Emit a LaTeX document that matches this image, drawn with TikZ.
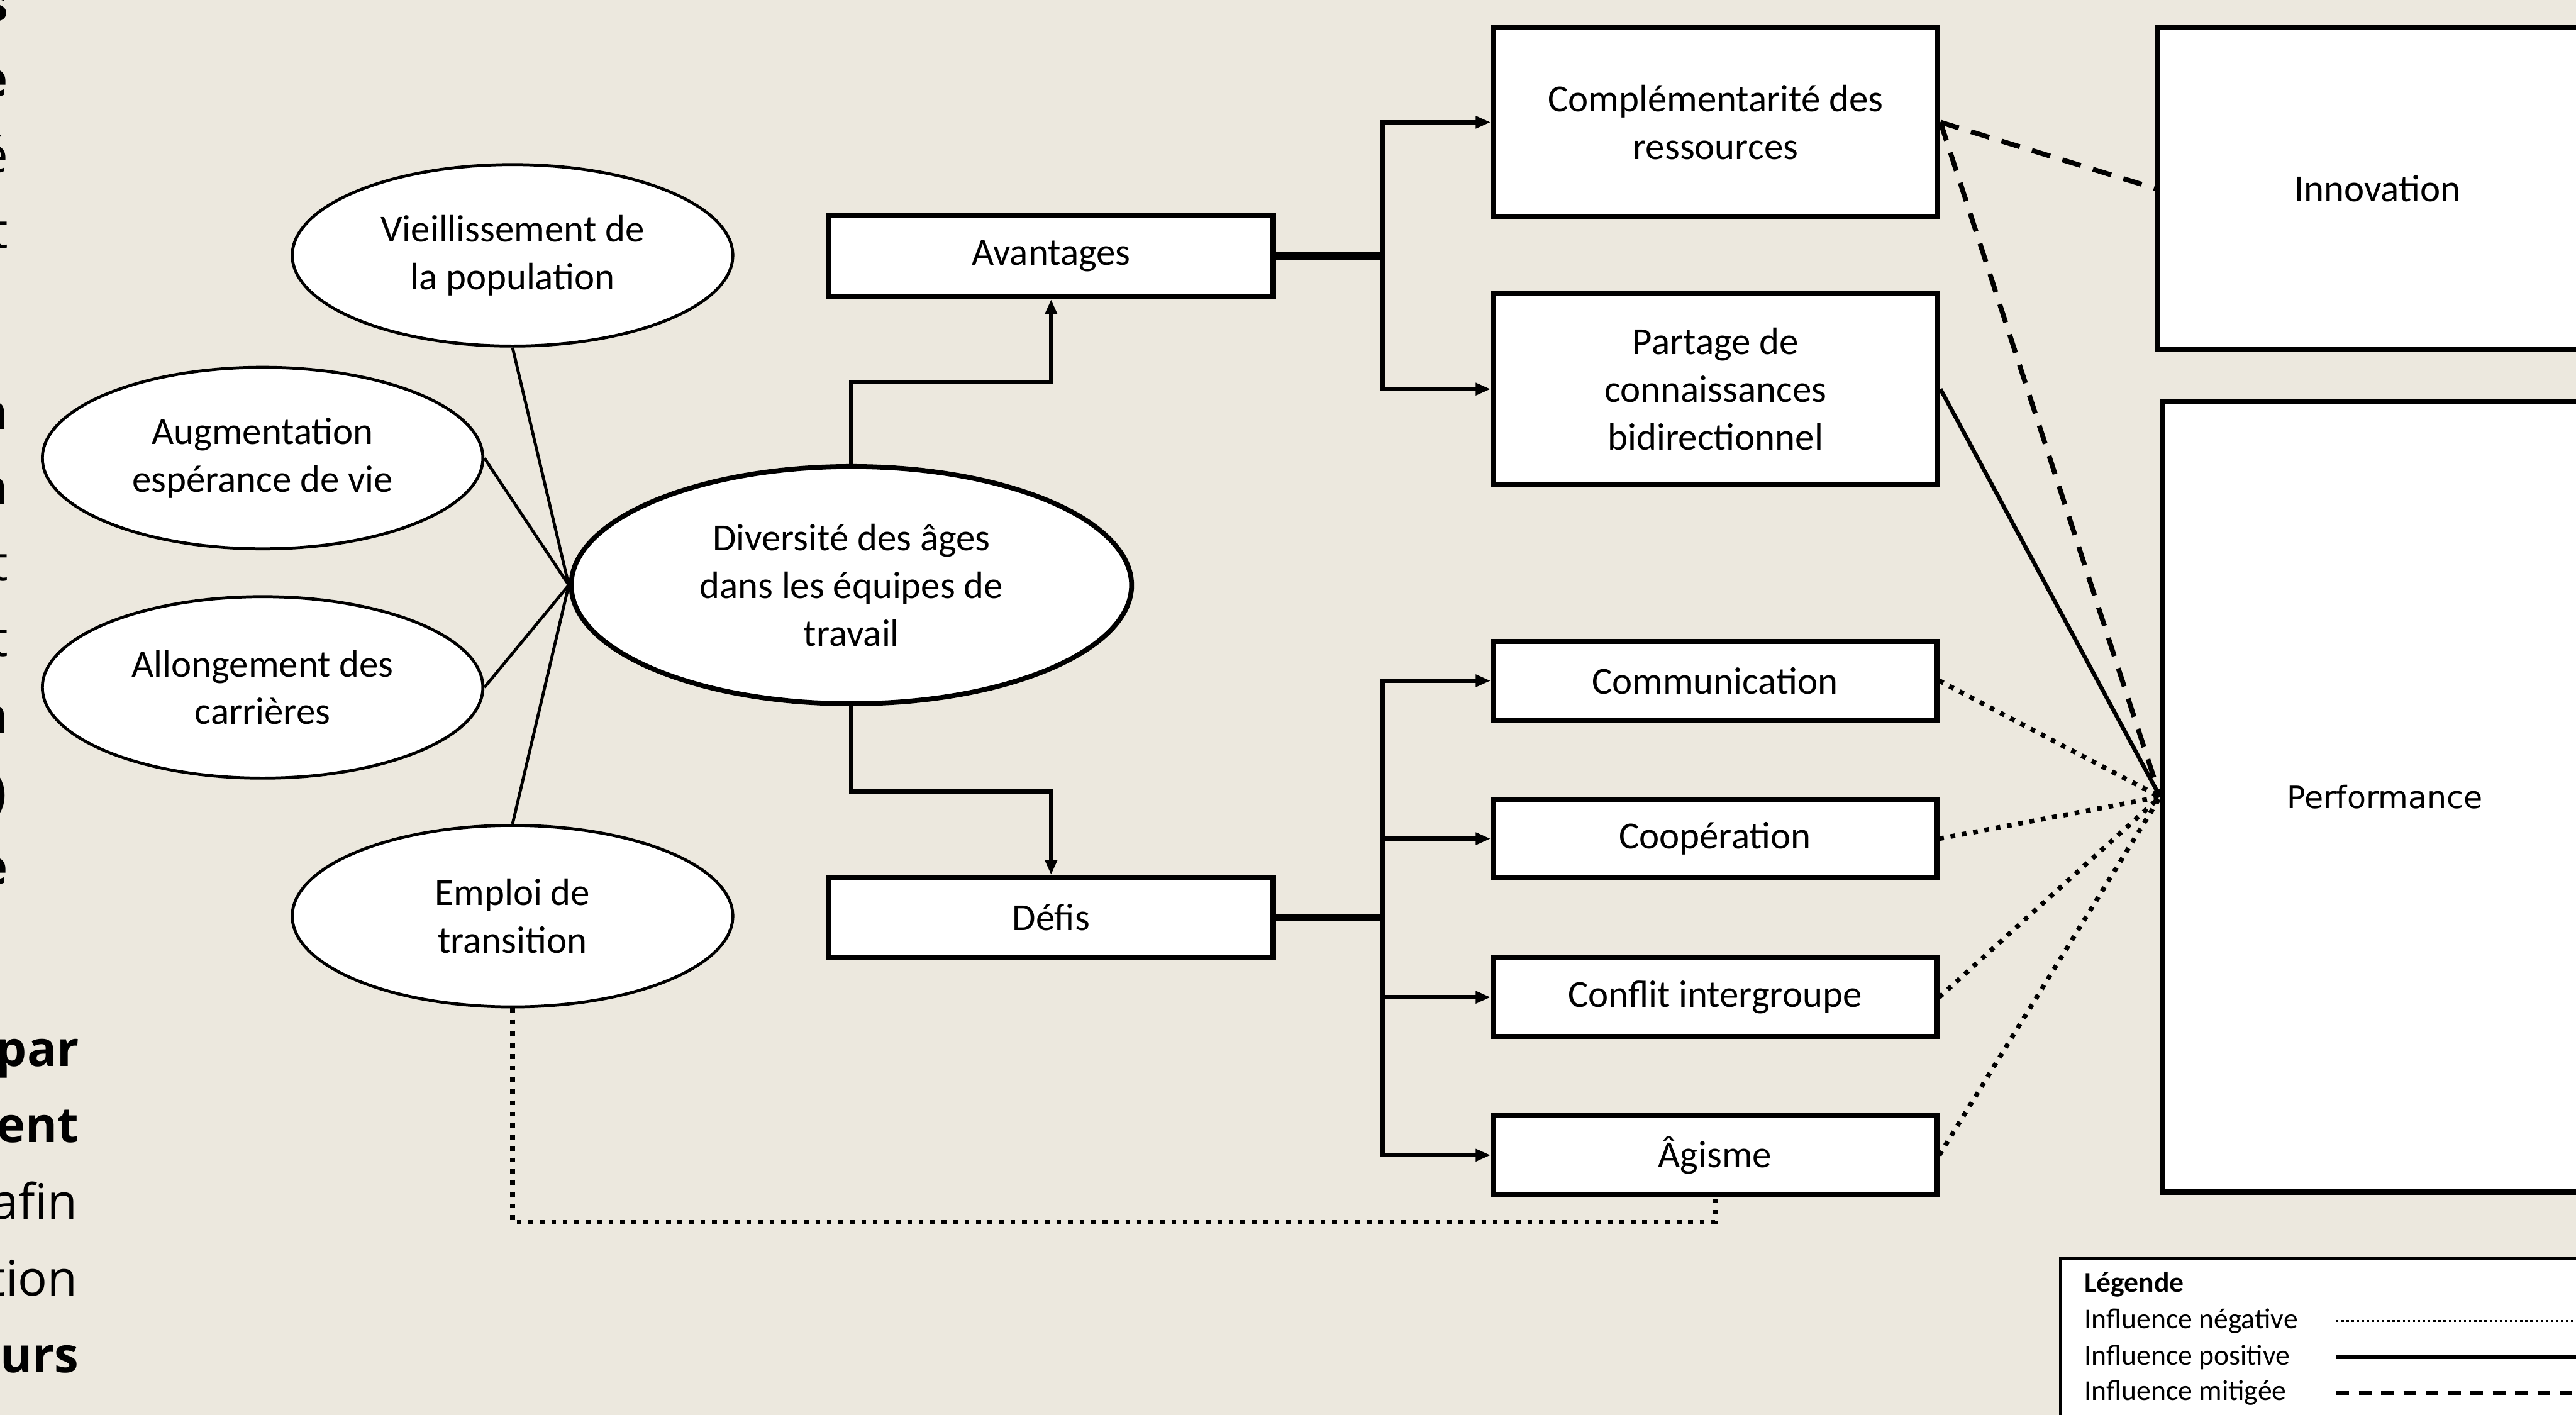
\documentclass[tikz,border=0pt]{standalone}
\usepackage{fontspec}
\setmainfont{Carlito}
\newfontfamily\perffont{DejaVu Sans}
\newfontfamily\pagefont{Open Sans}
\usetikzlibrary{shapes.geometric,arrows.meta}
\definecolor{fond}{RGB}{236,232,222}

\begin{document}
\begin{tikzpicture}
		[%%%%%%%%%%%%%%%%%%%%%%%%%%%%%%
		texte/.style={font=\fontsize{18}{22.4}\selectfont},
		ovale/.style={ellipse,draw=black,line width=1.4pt,fill=white,inner sep=0pt,align=center,texte,minimum width=7.28cm,minimum height=3cm},
		boite/.style={rectangle,draw=black,line width=2.4pt,fill=white,inner sep=0pt,align=center,texte,minimum width=7.33cm,minimum height=1.3cm},
		fleche/.style={line width=2pt,-{Triangle[length=7pt,width=5.5pt]}},
		tronc/.style={line width=3.3pt},
		rayon/.style={line width=1.4pt},
		lienneg/.style={line width=2.2pt,dash pattern=on 2.2pt off 3.2pt},
		lienpos/.style={line width=1.9pt},
		lienmit/.style={line width=2.3pt,dash pattern=on 9pt off 6pt},
		morceau/.style={anchor=base east,inner sep=0pt,font=\pagefont\fontsize{23}{36}\selectfont},
		gras/.style={font=\pagefont\bfseries\fontsize{23}{36}\selectfont},
		legende/.style={anchor=west,font=\fontsize{13.5}{16}\selectfont},
		]%%%%%%%%%%%%%%%%%%%%%%%%%%%%%%
		
		\path[use as bounding box] (0,0) rectangle (42.57,-23.38);
		\clip (0,0) rectangle (42.57,-23.38);
		\fill[fond] (0,0) rectangle (42.57,-23.38);
		
		% bouts du texte de la page
		\node[morceau,gras] at (0.14,-0.35) {s};
		\node[morceau,gras] at (0.14,-1.60) {e};
		\node[morceau] at (0.14,-2.85) {é};
		\node[morceau] at (0.14,-4.10) {t};
		\node[morceau,gras] at (0.14,-7.09) {a};
		\node[morceau,gras] at (0.14,-8.34) {a};
		\node[morceau] at (0.14,-9.60) {t};
		\node[morceau] at (0.14,-10.85) {t};
		\node[morceau,gras] at (0.14,-12.11) {n};
		\node[morceau,gras] at (0.12,-13.37) {)};
		\node[morceau,gras] at (0.14,-14.62) {e};
		\node[morceau,gras] at (1.31,-17.62) {par};
		\node[morceau,gras] at (1.31,-18.88) {ent};
		\node[morceau] at (1.29,-20.15) {afin};
		\node[morceau] at (1.29,-21.41) {tion};
		\node[morceau,gras] at (1.31,-22.68) {urs};
		
		% ellipses
		\node[ovale] (vieil) at (8.47,-4.22) {Vieillissement de\\la population};
		\node[ovale] (augm) at (4.34,-7.57) {Augmentation\\espérance de vie};
		\node[ovale] (allong) at (4.34,-11.36) {Allongement des\\carrières};
		\node[ovale] (emploi) at (8.47,-15.14) {Emploi de\\transition};
		\node[ovale,line width=2.3pt,minimum width=9.26cm,minimum height=3.92cm] (divers) at (14.07,-9.67) {Diversité des âges\\dans les équipes de\\travail};
		
		\foreach \n/\a in {vieil/south,augm/east,allong/east,emploi/north}
			\draw[rayon] (\n.\a) -- (divers.west);
		
		% boites
		\node[boite,minimum width=7.34cm,minimum height=1.35cm] (avant) at (17.37,-4.23) {Avantages};
		\node[boite,minimum width=7.34cm,minimum height=1.32cm] (defis) at (17.37,-15.16) {Défis};
		\node[boite,minimum width=7.35cm,minimum height=3.14cm] (compl) at (28.35,-2.02) {Complémentarité des\\ressources};
		\node[boite,minimum width=7.35cm,minimum height=3.16cm] (partage) at (28.35,-6.43) {Partage de\\connaissances\\bidirectionnel};
		\node[boite] (comm) at (28.34,-11.25) {Communication};
		\node[boite] (coop) at (28.34,-13.86) {Coopération};
		\node[boite] (conflit) at (28.34,-16.48) {Conflit intergroupe};
		\node[boite] (agisme) at (28.34,-19.09) {Âgisme};
		\node[boite,minimum width=7.26cm,minimum height=5.31cm] (innov) at (39.29,-3.115) {Innovation};
		\node[boite,minimum width=7.34cm,minimum height=13.06cm,font=\perffont\fontsize{14.5}{17}\selectfont] (perf) at (39.41,-13.17) {Performance};
		
		\coordinate (hautD) at (14.07,-6.31);
		\coordinate (basD) at (14.07,-13.08);
		\coordinate (brA) at (22.85,-4.23);
		\coordinate (brD) at (22.85,-15.16);
		\coordinate (bas) at (8.47,-20.2);
		
		\draw[fleche] (divers.north) -- (hautD) -| (avant.south);
		\draw[fleche] (divers.south) -- (basD) -| (defis.north);
		
		\draw[tronc] (avant.east) -- (brA);
		\draw[tronc] (defis.east) -- (brD);
		\foreach \n in {compl,partage}
			\draw[fleche] (brA) |- (\n.west);
		\foreach \n in {comm,coop,conflit,agisme}
			\draw[fleche] (brD) |- (\n.west);
		
		% influences
		\foreach \n in {comm,coop,conflit,agisme}
			\draw[lienneg] (\n.east) -- (perf.west);
		\draw[lienpos] (partage.east) -- (perf.west);
		\draw[lienmit] (compl.east) -- (innov.west);
		\draw[lienmit] (compl.east) -- (perf.west);
		\draw[lienneg] (emploi.south) -- (bas) -| (agisme.south);
		
		% legende
		\draw[line width=1.2pt,fill=white] (34.05,-20.8) rectangle (43,-24);
		\node[legende,font=\bfseries\fontsize{13.5}{16}\selectfont] (leg) at (34.32,-21.23) {Légende};
		\node[legende] (lneg) at (34.32,-21.83) {Influence négative};
		\node[legende] (lpos) at (34.32,-22.43) {Influence positive};
		\node[legende] (lmit) at (34.32,-23.02) {Influence mitigée};
		\coordinate (fin) at (43,0);
		\draw[line width=1pt,dash pattern=on 1pt off 1.4pt] (38.61,-21.83) -- (lneg -| fin);
		\draw[line width=1.8pt] (38.61,-22.43) -- (lpos -| fin);
		\draw[line width=1.8pt,dash pattern=on 6pt off 4.5pt] (38.61,-23.02) -- (lmit -| fin);
		\end{tikzpicture}
\end{document}
